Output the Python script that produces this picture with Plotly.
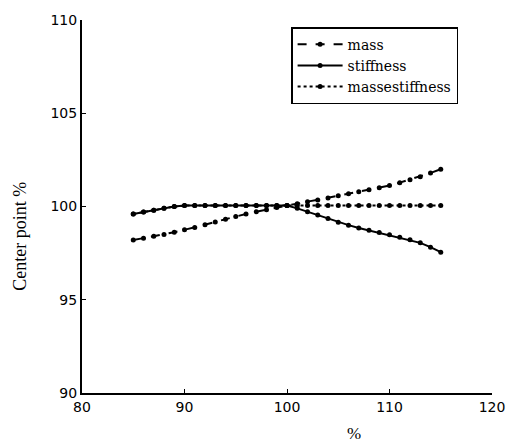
import plotly.graph_objects as go

x_pct = list(range(85, 116))

mass = [98.20, 98.30, 98.40, 98.50, 98.62, 98.75, 98.88, 99.02, 99.17, 99.32,
        99.47, 99.60, 99.72, 99.83, 99.94, 100.05, 100.15, 100.25, 100.35, 100.46,
        100.57, 100.68, 100.79, 100.90, 101.00, 101.12, 101.28, 101.44, 101.60, 101.80,
        102.00]

stiffness = [99.60, 99.70, 99.80, 99.90, 100.00, 100.05, 100.05, 100.05, 100.05, 100.05,
             100.05, 100.05, 100.05, 100.05, 100.05, 100.05, 99.90, 99.72, 99.55, 99.35,
             99.15, 99.00, 98.85, 98.72, 98.60, 98.48, 98.35, 98.22, 98.05, 97.82,
             97.55]

massestiffness = [99.60, 99.70, 99.80, 99.90, 100.00, 100.05, 100.05, 100.05, 100.05, 100.05,
                  100.05, 100.05, 100.05, 100.05, 100.05, 100.05, 100.05, 100.05, 100.05, 100.05,
                  100.05, 100.05, 100.05, 100.05, 100.05, 100.05, 100.05, 100.05, 100.05, 100.05,
                  100.05]

x_ticks = [80, 90, 100, 110, 120]
y_ticks = [90, 95, 100, 105, 110]

fig = go.Figure()
for name, vals, dash in [("mass", mass, "dash"), ("stiffness", stiffness, "solid"),
                         ("massestiffness", massestiffness, "dot")]:
    fig.add_trace(go.Scatter(
        x=x_pct, y=vals, name=name, mode="lines+markers",
        line=dict(color="black", width=2, dash=dash),
        marker=dict(color="black", size=5, symbol="circle"),
    ))

fig.update_layout(
    width=517, height=445,
    margin=dict(l=82, r=21, t=20, b=52),
    paper_bgcolor="white", plot_bgcolor="white",
    showlegend=True,
    legend=dict(x=0.51, y=0.981, xanchor="left", yanchor="top",
                bordercolor="black", borderwidth=1.5, bgcolor="white",
                font=dict(family="DejaVu Serif", size=14, color="black"),
                tracegroupgap=0, itemwidth=45),
    font=dict(family="DejaVu Sans", size=14, color="black"),
)
fig.update_xaxes(range=[80, 120], tickvals=x_ticks, ticks="inside", ticklen=4,
                 showline=True, linecolor="black", linewidth=2, showgrid=False,
                 zeroline=False, tickcolor="black", tickfont=dict(size=14))
fig.update_yaxes(range=[90, 110], tickvals=y_ticks, ticks="inside", ticklen=4,
                 showline=True, linecolor="black", linewidth=2, showgrid=False,
                 zeroline=False, tickcolor="black", tickfont=dict(size=14))

fig.add_annotation(text="Center point %", textangle=-90, xref="paper", yref="paper",
                   x=-0.15, y=0.42, xanchor="center", yanchor="middle", showarrow=False,
                   font=dict(family="Liberation Serif", size=18, color="black"))
fig.add_annotation(text="%", xref="paper", yref="paper",
                   x=(357 - 82) / 414, y=-40 / 373, xanchor="center", yanchor="middle",
                   showarrow=False,
                   font=dict(family="Liberation Serif", size=17, color="black"))

fig.write_html("out.html")
